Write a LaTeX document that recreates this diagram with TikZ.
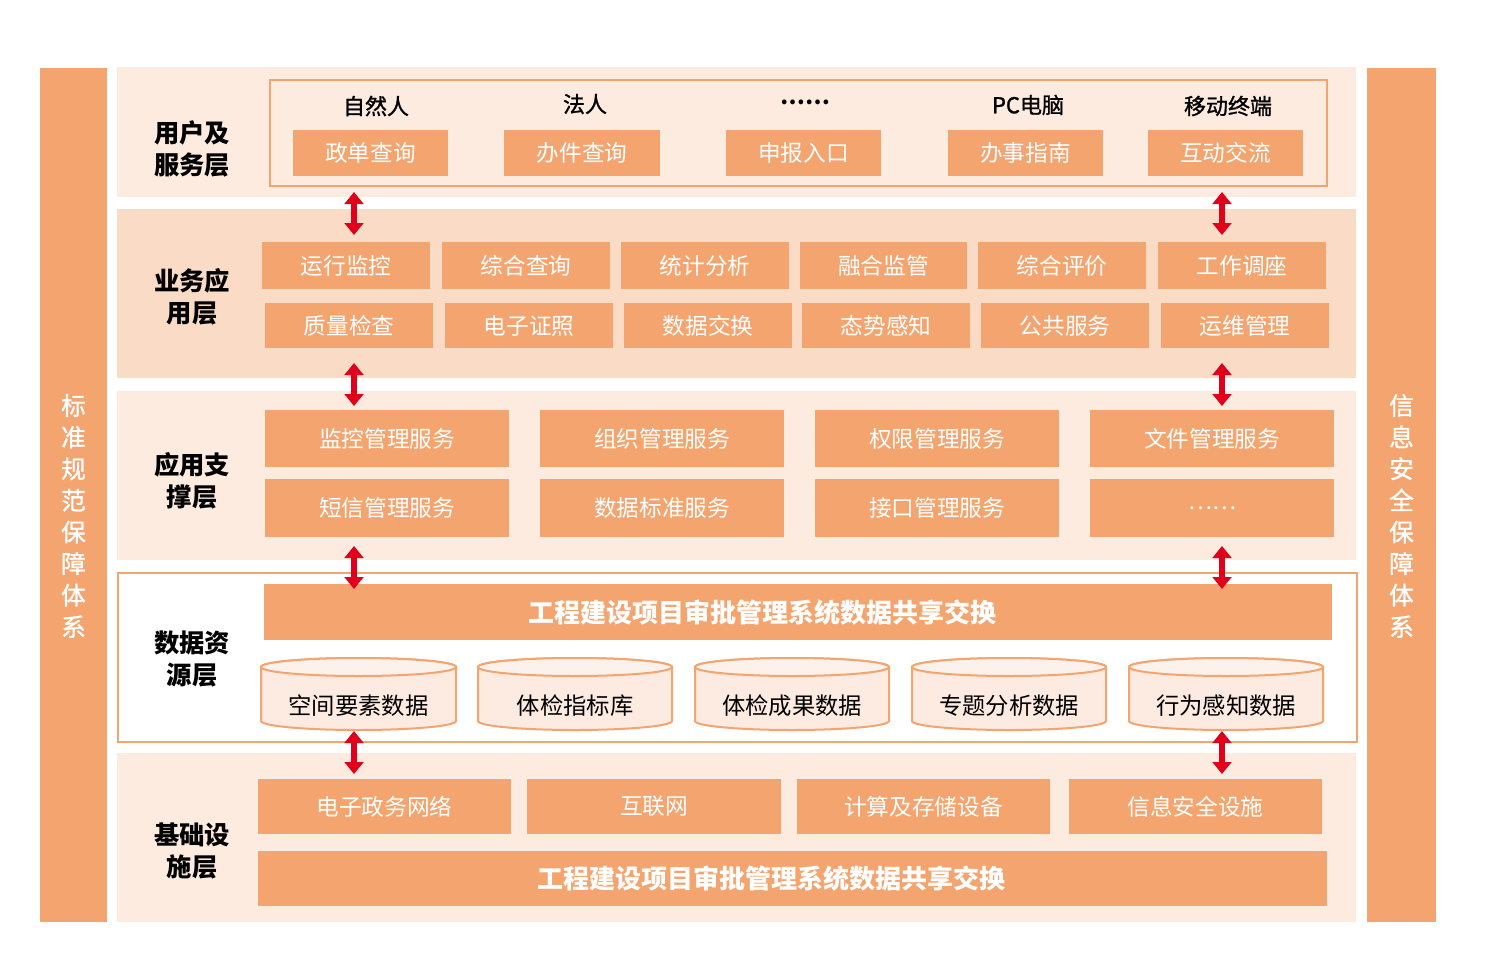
\documentclass[tikz,border=0pt]{standalone}
\usepackage{fontspec}
\setmainfont{Noto Sans CJK SC}
\newfontfamily\medfont{Noto Sans CJK SC}[FakeBold=1.2]
\usetikzlibrary{arrows.meta,fit}
\definecolor{obg}{HTML}{F4A56F}
\definecolor{lbg}{HTML}{FDEBE0}
\definecolor{dbg}{HTML}{FADBC6}
\definecolor{cylbody}{HTML}{FDEAE0}
\definecolor{cyltop}{HTML}{FCF2EB}
\definecolor{arr}{HTML}{E0001B}
\tikzset{
  layerbg/.style={fill=lbg,draw=none},
  layerdk/.style={fill=dbg,draw=none},
  obox/.style={fill=obg,draw=none,inner sep=0pt},
  boxtxt/.style={text=white,inner sep=0pt,font=\fontsize{17pt}{19pt}\selectfont},
  bigtxt/.style={text=white,inner sep=0pt,font=\fontsize{19.5pt}{22pt}\selectfont\bfseries},
  sidebar/.style={fill=obg,draw=none,inner sep=0pt},
  sidetxt/.style={text=white,align=center,inner sep=0pt,font=\medfont\fontsize{18.5pt}{23.7pt}\selectfont},
  laylabel/.style={align=center,font=\fontsize{19pt}{24pt}\selectfont\bfseries,text=black},
  toplabel/.style={font=\medfont\fontsize{16.5pt}{19pt}\selectfont,text=black},
  cyltext/.style={font=\fontsize{17.5pt}{20pt}\selectfont,text=black},
  frame/.style={draw=obg,line width=1.6pt},
  dblarrow/.style={draw=arr,line width=4.5pt,{Triangle[width=14pt,length=9pt]}-{Triangle[width=14pt,length=9pt]}},
}
\newcommand{\obx}[7][boxtxt]{%
  \node[obox,fit={(#3,#4)(#5,#6)}] (#2) {};
  \node[#1] (#2txt) at (#2.center) {#7};
}
\begin{document}
\begin{tikzpicture}[x=0.75pt,y=-0.75pt]
\useasboundingbox (0,0) rectangle (1500,975);
\fill[white] (0,0) rectangle (1500,975);

% side bars
\node[sidebar,fit={(40,68)(107,922)}] (leftbar) {};
\node[sidebar,fit={(1367,68)(1436,922)}] (rightbar) {};
\node[sidetxt] (lefttxt) at (73.5,516) {标\\准\\规\\范\\保\\障\\体\\系};
\node[sidetxt] (righttxt) at (1401.5,516) {信\\息\\安\\全\\保\\障\\体\\系};

% layer backgrounds
\node[layerbg,fit={(117,67)(1356,197)},inner sep=0pt] (L1) {};
\node[layerdk,fit={(117,209)(1356,378)},inner sep=0pt] (L2) {};
\node[layerbg,fit={(117,391)(1356,560)},inner sep=0pt] (L3) {};
\node[fill=white,frame,fit={(118,573)(1357,742)},inner sep=0pt] (L4) {};
\node[layerbg,fit={(117,753)(1356,922)},inner sep=0pt] (L5) {};

% layer labels
\node[laylabel] (t1) at (192,149) {用户及\\服务层};
\node[laylabel] (t2) at (192,297) {业务应\\用层};
\node[laylabel] (t3) at (192,481) {应用支\\撑层};
\node[laylabel] (t4) at (192,659) {数据资\\源层};
\node[laylabel] (t5) at (192,851) {基础设\\施层};

% layer 1
\node[frame,fit={(270,80)(1327,186)},inner sep=0pt] (userframe) {};
\node[toplabel] (u1) at (376,106) {自然人};
\node[toplabel] (u2) at (585,104) {法人};
\node[toplabel,font=\fontsize{16.5pt}{19pt}\selectfont\bfseries] (u3) at (805,102) {……};
\node[toplabel] (u4) at (1028,105) {PC电脑};
\node[toplabel] (u5) at (1228,106) {移动终端};
\obx{s1}{293}{130}{448}{176}{政单查询}
\obx{s2}{504}{130}{660}{176}{办件查询}
\obx{s3}{726}{130}{881}{176}{申报入口}
\obx{s4}{948}{130}{1103}{176}{办事指南}
\obx{s5}{1148}{130}{1303}{176}{互动交流}

% layer 2
\obx{b1}{262}{242}{430}{289}{运行监控}
\obx{b2}{442}{242}{610}{289}{综合查询}
\obx{b3}{621}{242}{789}{289}{统计分析}
\obx{b4}{800}{242}{967}{289}{融合监管}
\obx{b5}{978}{242}{1146}{289}{综合评价}
\obx{b6}{1158}{242}{1326}{289}{工作调座}
\obx{b7}{265}{303}{433}{348}{质量检查}
\obx{b8}{445}{303}{613}{348}{电子证照}
\obx{b9}{624}{303}{792}{348}{数据交换}
\obx{b10}{802}{303}{970}{348}{态势感知}
\obx{b11}{981}{303}{1149}{348}{公共服务}
\obx{b12}{1161}{303}{1329}{348}{运维管理}

% layer 3
\obx{a1}{265}{410}{509}{467}{监控管理服务}
\obx{a2}{540}{410}{784}{467}{组织管理服务}
\obx{a3}{815}{410}{1059}{467}{权限管理服务}
\obx{a4}{1090}{410}{1334}{467}{文件管理服务}
\obx{a5}{265}{479}{509}{537}{短信管理服务}
\obx{a6}{540}{479}{784}{537}{数据标准服务}
\obx{a7}{815}{479}{1059}{537}{接口管理服务}
\obx{a8}{1090}{479}{1334}{537}{……}

% layer 4
\node[obox,fit={(264,584)(1332,640)}] (share1) {};
\node[bigtxt] (share1txt) at (762,613) {工程建设项目审批管理系统数据共享交换};
\foreach \xa/\xb/\lab/\nm in {261/456/空间要素数据/c1,478/672/体检指标库/c2,695/889/体检成果数据/c3,912/1106/专题分析数据/c4,1129/1323/行为感知数据/c5}{
  \filldraw[fill=cylbody,draw=obg,line width=1.5pt]
    (\xa,667) -- (\xa,721) arc[start angle=180,end angle=0,x radius={(\xb-\xa)/2},y radius=9] -- (\xb,667) arc[start angle=0,end angle=-180,x radius={(\xb-\xa)/2},y radius=9] -- cycle;
  \filldraw[fill=cyltop,draw=obg,line width=1.5pt] ({(\xa+\xb)/2},667) ellipse[x radius={(\xb-\xa)/2},y radius=9];
  \node[cyltext] (\nm) at ({(\xa+\xb)/2},706) {\lab};
}

% layer 5
\obx{i1}{258}{779}{511}{834}{电子政务网络}
\obx{i2}{527}{779}{781}{834}{互联网}
\obx{i3}{797}{779}{1050}{834}{计算及存储设备}
\obx{i4}{1069}{779}{1322}{834}{信息安全设施}
\node[obox,fit={(258,851)(1327,906)}] (share2) {};
\node[bigtxt] (share2txt) at (771,879) {工程建设项目审批管理系统数据共享交换};

% arrows
\foreach \xx/\n in {354/l,1222/r}{
  \coordinate (p1\n) at (\xx,192); \coordinate (q1\n) at (\xx,235);
  \coordinate (p2\n) at (\xx,363); \coordinate (q2\n) at (\xx,406);
  \coordinate (p3\n) at (\xx,546); \coordinate (q3\n) at (\xx,589);
  \coordinate (p4\n) at (\xx,731); \coordinate (q4\n) at (\xx,774);
  \draw[dblarrow] (p1\n) -- (q1\n);
  \draw[dblarrow] (p2\n) -- (q2\n);
  \draw[dblarrow] (p3\n) -- (q3\n);
  \draw[dblarrow] (p4\n) -- (q4\n);
}
\end{tikzpicture}
\end{document}
